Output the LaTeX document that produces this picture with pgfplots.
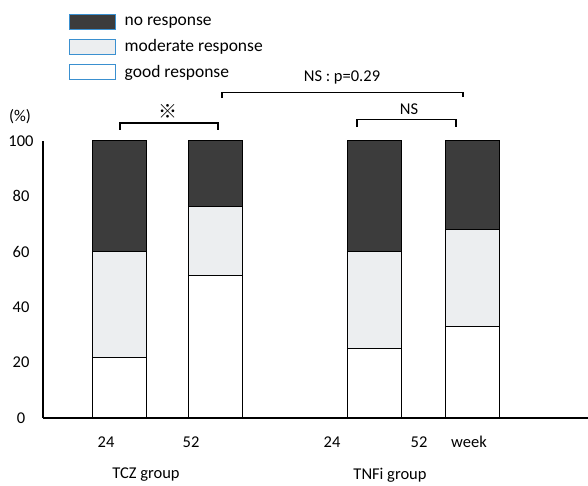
\documentclass[border=0pt]{standalone}
\usepackage{pgfplots}
\pgfplotsset{compat=1.18}
\usepackage{fontspec}
\setmainfont{Carlito}
\newfontfamily\cjk{Noto Sans CJK JP}
\definecolor{darkfill}{HTML}{3C3C3C}
\definecolor{lightfill}{HTML}{ECEEF0}
\definecolor{legblue}{HTML}{3A90D0}
\begin{document}
\begin{tikzpicture}[x=1pt,y=1pt]
\path[use as bounding box] (0,0) rectangle (588,486);
\begin{axis}[
  at={(43pt,68pt)}, anchor=south west,
  scale only axis, width=545pt, height=277pt,
  xmin=43, xmax=588, ymin=0, ymax=100,
  ybar stacked, bar width=54,
  axis lines=left, axis line style={-, line width=1.3pt},
  xtick={106,191,332,419}, xticklabels={24,52,24,52},
  ytick={0,20,...,100},
  major tick length=0pt,
  xticklabel style={anchor=center, yshift=-24pt},
  yticklabel style={anchor=center, xshift=-22pt},
  tick label style={font=\fontsize{16.5}{19}\selectfont},
  /pgf/number format/assume math mode=true,
  clip=false,
  reverse legend,
  legend cell align=left,
  legend style={at={(0.0477,1.46)}, anchor=north west, draw=none, fill=none,
    inner sep=0pt, row sep=8pt, font=\fontsize{17.5}{21}\selectfont,
    nodes={inner xsep=8.5pt}},
  legend image code/.code={\draw[#1,draw=legblue,line width=1pt] (0pt,-7.5pt) rectangle (46pt,7.5pt);},
]
\addplot[fill=white, draw=black, line width=1pt] coordinates {(119,22) (215,51.5) (374,25.2) (472.5,33)};
\addlegendentry{good response}
\addplot[fill=lightfill, draw=black, line width=1pt] coordinates {(119,38) (215,24.8) (374,34.8) (472.5,35)};
\addlegendentry{moderate response}
\addplot[fill=darkfill, draw=black, line width=1pt] coordinates {(119,40) (215,23.7) (374,40) (472.5,32)};
\addlegendentry{no response}

\draw[line width=1.1pt] (axis cs:120,104) -- (axis cs:120,106.5) -- (axis cs:218,106.5) -- (axis cs:218,104);
\node[font=\cjk\bfseries\fontsize{19}{22}\selectfont] at (axis cs:168,110.8) {※};
\draw[line width=1.1pt] (axis cs:222,115.5) -- (axis cs:222,117.5) -- (axis cs:463,117.5) -- (axis cs:463,115.9);
\node[font=\fontsize{16.5}{19}\selectfont] at (axis cs:342,123.1) {NS : p=0.29};
\draw[line width=1.1pt] (axis cs:357,105) -- (axis cs:357,107.9) -- (axis cs:456,107.9) -- (axis cs:456,105);
\node[font=\fontsize{16.5}{19}\selectfont] at (axis cs:409,111.6) {NS};
\node[font=\fontsize{16.5}{19}\selectfont] at (axis cs:20,108.7) {(\%)};
\node[font=\fontsize{16.5}{19}\selectfont] at (axis cs:469,-8.66) {week};
\node[font=\fontsize{16.5}{19}\selectfont] at (axis cs:146,-20.6) {TCZ group};
\node[font=\fontsize{16.5}{19}\selectfont] at (axis cs:390,-20.6) {TNFi group};
\end{axis}
\end{tikzpicture}
\end{document}
